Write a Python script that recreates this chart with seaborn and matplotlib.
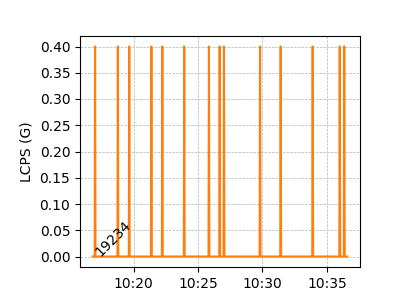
import matplotlib
matplotlib.use("Agg")
import matplotlib.pyplot as plt
import matplotlib.dates as mdates
import matplotlib.ticker as mticker
import pandas as pd
import seaborn as sns

day = "2023-01-01 "
start_time = "10:16:50"
end_time = "10:36:35"
spike_times = ["10:17:01", "10:18:47", "10:19:40", "10:21:23", "10:22:14",
               "10:23:56", "10:25:51", "10:26:41", "10:27:01", "10:29:49",
               "10:31:25", "10:33:54", "10:36:00", "10:36:21"]
spike_value = 0.40
base_value = 0.0
label_text = "19234"

rows = [(pd.Timestamp(day + start_time), base_value)]
for s in spike_times:
    t = pd.Timestamp(day + s)
    rows.append((t - pd.Timedelta(seconds=2), base_value))
    rows.append((t, spike_value))
    rows.append((t + pd.Timedelta(seconds=2), base_value))
rows.append((pd.Timestamp(day + end_time), base_value))
df = pd.DataFrame(rows, columns=["time", "LCPS"])

fig, ax = plt.subplots(figsize=(4, 3), dpi=100)
fig.subplots_adjust(left=0.2, right=0.9, top=0.88, bottom=0.11)
sns.lineplot(data=df, x="time", y="LCPS", color="C1", ax=ax, linewidth=1.5)
ax.text(df["time"].iloc[0], base_value, label_text, rotation=45, fontsize=10)
ax.set_xlabel("")
ax.set_ylabel("LCPS (G)")
ax.xaxis.set_major_locator(mdates.MinuteLocator(byminute=range(0, 60, 5)))
ax.xaxis.set_major_formatter(mdates.DateFormatter("%H:%M"))
ax.yaxis.set_major_locator(mticker.MultipleLocator(0.05))
ax.yaxis.set_major_formatter(mticker.FormatStrFormatter("%.2f"))
ax.grid(True, linestyle="--", linewidth=0.5, color="#b0b0b0")
fig.savefig("out.png")
